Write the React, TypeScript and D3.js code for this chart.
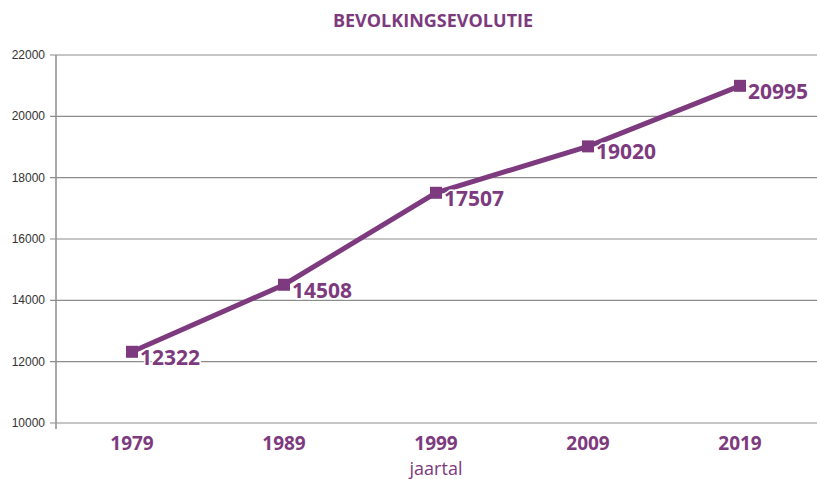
import React, { useRef, useEffect } from "react";
import * as d3 from "d3";

const years = ["1979", "1989", "1999", "2009", "2019"];
const population = [12322, 14508, 17507, 19020, 20995];
const yTicks = [10000, 12000, 14000, 16000, 18000, 20000, 22000];

const purple = "#7d3a7e";
const font = "'Open Sans', sans-serif";

function App() {
  const svgRef = useRef<SVGSVGElement>(null);

  useEffect(() => {
    const svg = d3.select(svgRef.current);
    svg.selectAll("*").remove();

    const x = d3.scaleBand().domain(years).range([56, 816]);
    const y = d3.scaleLinear().domain([10000, 22000]).range([423, 55]);

    // gridlines
    svg
      .append("g")
      .selectAll("line")
      .data(yTicks)
      .join("line")
      .attr("x1", 50)
      .attr("x2", 817)
      .attr("y1", (d) => y(d))
      .attr("y2", (d) => y(d))
      .attr("stroke", "#8c8c8c")
      .attr("stroke-width", 1.2);

    // y axis line
    svg
      .append("line")
      .attr("x1", 56)
      .attr("x2", 56)
      .attr("y1", 55)
      .attr("y2", 429)
      .attr("stroke", "#8c8c8c")
      .attr("stroke-width", 1.5);

    // y tick labels
    svg
      .append("g")
      .selectAll("text")
      .data(yTicks)
      .join("text")
      .attr("x", 45)
      .attr("y", (d) => y(d) + 4)
      .attr("text-anchor", "end")
      .attr("font-family", "Liberation Sans, Arial, sans-serif")
      .attr("font-size", 12)
      .attr("fill", "#333")
      .text((d) => d);

    // x labels
    svg
      .append("g")
      .selectAll("text")
      .data(years)
      .join("text")
      .attr("x", (d) => x(d)! + x.bandwidth() / 2)
      .attr("y", 450)
      .attr("text-anchor", "middle")
      .attr("font-family", font)
      .attr("font-weight", "bold")
      .attr("font-size", 19)
      .attr("fill", purple)
      .text((d) => d);

    const line = d3
      .line<number>()
      .x((_, i) => x(years[i])! + x.bandwidth() / 2)
      .y((d) => y(d));

    svg
      .append("path")
      .datum(population)
      .attr("d", line)
      .attr("fill", "none")
      .attr("stroke", purple)
      .attr("stroke-width", 5);

    svg
      .append("g")
      .selectAll("rect")
      .data(population)
      .join("rect")
      .attr("x", (_, i) => x(years[i])! + x.bandwidth() / 2 - 6)
      .attr("y", (d) => y(d) - 6)
      .attr("width", 12)
      .attr("height", 12)
      .attr("fill", purple);

    // value labels
    svg
      .append("g")
      .selectAll("text")
      .data(population)
      .join("text")
      .attr("x", (_, i) => x(years[i])! + x.bandwidth() / 2 + 8)
      .attr("y", (d) => y(d) + 13)
      .attr("font-family", font)
      .attr("font-weight", "bold")
      .attr("font-size", 21)
      .attr("fill", purple)
      .attr("stroke", "white")
      .attr("stroke-width", 3)
      .attr("paint-order", "stroke")
      .text((d) => d);

    svg
      .append("text")
      .attr("x", 433)
      .attr("y", 27)
      .attr("text-anchor", "middle")
      .attr("font-family", font)
      .attr("font-weight", "bold")
      .attr("font-size", 18)
      .attr("fill", purple)
      .text("BEVOLKINGSEVOLUTIE");

    svg
      .append("text")
      .attr("x", 436)
      .attr("y", 475)
      .attr("text-anchor", "middle")
      .attr("font-family", font)
      .attr("font-size", 18)
      .attr("fill", purple)
      .text("jaartal");
  }, []);

  return (
    <svg
      ref={svgRef}
      width={817}
      height={479}
      style={{ position: "absolute", left: 0, top: 0, background: "white" }}
    />
  );
}

export default App;
